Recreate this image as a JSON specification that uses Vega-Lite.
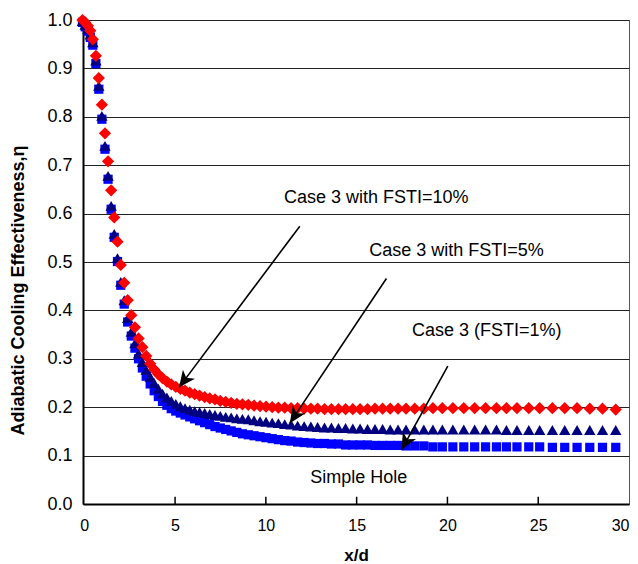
{
  "$schema": "https://vega.github.io/schema/vega-lite/v6.json",
  "width": 546,
  "height": 484,
  "autosize": {"type": "none"},
  "padding": {"left": 83, "top": 20, "right": 9, "bottom": 60},
  "background": "white",
  "config": {
    "font": "Liberation Sans",
    "view": {"stroke": "#555555", "strokeWidth": 1},
    "axis": {"labelFont": "Liberation Sans", "titleFont": "Liberation Sans", "labelColor": "black", "titleColor": "black", "domainColor": "black"}
  },
  "datasets": {
    "curves": [
      {"x": -0.1, "simple": 0.995, "fsti5": 0.998, "fsti10": 1.0},
      {"x": 0.05, "simple": 0.986, "fsti5": 0.99, "fsti10": 0.995},
      {"x": 0.2, "simple": 0.977, "fsti5": 0.982, "fsti10": 0.988},
      {"x": 0.33, "simple": 0.964, "fsti5": 0.97, "fsti10": 0.978},
      {"x": 0.47, "simple": 0.948, "fsti5": 0.954, "fsti10": 0.96},
      {"x": 0.64, "simple": 0.91, "fsti5": 0.916, "fsti10": 0.926},
      {"x": 0.8, "simple": 0.857, "fsti5": 0.864, "fsti10": 0.88},
      {"x": 0.97, "simple": 0.795, "fsti5": 0.802, "fsti10": 0.825},
      {"x": 1.14, "simple": 0.733, "fsti5": 0.74, "fsti10": 0.766},
      {"x": 1.31, "simple": 0.671, "fsti5": 0.678, "fsti10": 0.708},
      {"x": 1.48, "simple": 0.609, "fsti5": 0.616, "fsti10": 0.648},
      {"x": 1.65, "simple": 0.551, "fsti5": 0.558, "fsti10": 0.592},
      {"x": 1.83, "simple": 0.501, "fsti5": 0.508, "fsti10": 0.542},
      {"x": 2.01, "simple": 0.452, "fsti5": 0.459, "fsti10": 0.494},
      {"x": 2.2, "simple": 0.413, "fsti5": 0.421, "fsti10": 0.457},
      {"x": 2.39, "simple": 0.376, "fsti5": 0.384, "fsti10": 0.421},
      {"x": 2.59, "simple": 0.347, "fsti5": 0.356, "fsti10": 0.39},
      {"x": 2.79, "simple": 0.322, "fsti5": 0.332, "fsti10": 0.365},
      {"x": 2.99, "simple": 0.3, "fsti5": 0.311, "fsti10": 0.342},
      {"x": 3.2, "simple": 0.281, "fsti5": 0.293, "fsti10": 0.324},
      {"x": 3.41, "simple": 0.264, "fsti5": 0.277, "fsti10": 0.306},
      {"x": 3.63, "simple": 0.248, "fsti5": 0.263, "fsti10": 0.29},
      {"x": 3.85, "simple": 0.234, "fsti5": 0.25, "fsti10": 0.278},
      {"x": 4.08, "simple": 0.222, "fsti5": 0.238, "fsti10": 0.268},
      {"x": 4.31, "simple": 0.212, "fsti5": 0.228, "fsti10": 0.26},
      {"x": 4.55, "simple": 0.204, "fsti5": 0.22, "fsti10": 0.253},
      {"x": 4.79, "simple": 0.197, "fsti5": 0.213, "fsti10": 0.247},
      {"x": 5.04, "simple": 0.192, "fsti5": 0.207, "fsti10": 0.242},
      {"x": 5.29, "simple": 0.188, "fsti5": 0.202, "fsti10": 0.238},
      {"x": 5.55, "simple": 0.184, "fsti5": 0.198, "fsti10": 0.234},
      {"x": 5.81, "simple": 0.18, "fsti5": 0.195, "fsti10": 0.23},
      {"x": 6.08, "simple": 0.176, "fsti5": 0.192, "fsti10": 0.227},
      {"x": 6.35, "simple": 0.172, "fsti5": 0.19, "fsti10": 0.224},
      {"x": 6.63, "simple": 0.168, "fsti5": 0.188, "fsti10": 0.221},
      {"x": 6.91, "simple": 0.164, "fsti5": 0.186, "fsti10": 0.218},
      {"x": 7.2, "simple": 0.16, "fsti5": 0.184, "fsti10": 0.216},
      {"x": 7.49, "simple": 0.157, "fsti5": 0.182, "fsti10": 0.213},
      {"x": 7.79, "simple": 0.154, "fsti5": 0.18, "fsti10": 0.211},
      {"x": 8.09, "simple": 0.151, "fsti5": 0.179, "fsti10": 0.209},
      {"x": 8.4, "simple": 0.148, "fsti5": 0.177, "fsti10": 0.207},
      {"x": 8.71, "simple": 0.145, "fsti5": 0.176, "fsti10": 0.206},
      {"x": 9.03, "simple": 0.143, "fsti5": 0.175, "fsti10": 0.205},
      {"x": 9.35, "simple": 0.141, "fsti5": 0.173, "fsti10": 0.203},
      {"x": 9.68, "simple": 0.139, "fsti5": 0.171, "fsti10": 0.202},
      {"x": 10.01, "simple": 0.137, "fsti5": 0.17, "fsti10": 0.201},
      {"x": 10.35, "simple": 0.135, "fsti5": 0.168, "fsti10": 0.2},
      {"x": 10.69, "simple": 0.133, "fsti5": 0.167, "fsti10": 0.199},
      {"x": 11.04, "simple": 0.131, "fsti5": 0.165, "fsti10": 0.199},
      {"x": 11.39, "simple": 0.13, "fsti5": 0.164, "fsti10": 0.198},
      {"x": 11.75, "simple": 0.128, "fsti5": 0.162, "fsti10": 0.198},
      {"x": 12.11, "simple": 0.127, "fsti5": 0.161, "fsti10": 0.197},
      {"x": 12.48, "simple": 0.126, "fsti5": 0.16, "fsti10": 0.197},
      {"x": 12.85, "simple": 0.125, "fsti5": 0.159, "fsti10": 0.197},
      {"x": 13.23, "simple": 0.125, "fsti5": 0.158, "fsti10": 0.196},
      {"x": 13.61, "simple": 0.124, "fsti5": 0.158, "fsti10": 0.196},
      {"x": 14.0, "simple": 0.124, "fsti5": 0.157, "fsti10": 0.196},
      {"x": 14.39, "simple": 0.122, "fsti5": 0.157, "fsti10": 0.196},
      {"x": 14.79, "simple": 0.122, "fsti5": 0.156, "fsti10": 0.196},
      {"x": 15.19, "simple": 0.122, "fsti5": 0.156, "fsti10": 0.196},
      {"x": 15.6, "simple": 0.122, "fsti5": 0.155, "fsti10": 0.196},
      {"x": 16.01, "simple": 0.121, "fsti5": 0.155, "fsti10": 0.197},
      {"x": 16.43, "simple": 0.121, "fsti5": 0.155, "fsti10": 0.197},
      {"x": 16.85, "simple": 0.121, "fsti5": 0.154, "fsti10": 0.197},
      {"x": 17.28, "simple": 0.121, "fsti5": 0.154, "fsti10": 0.197},
      {"x": 17.72, "simple": 0.12, "fsti5": 0.154, "fsti10": 0.197},
      {"x": 18.2, "simple": 0.12, "fsti5": 0.154, "fsti10": 0.197},
      {"x": 18.7, "simple": 0.12, "fsti5": 0.154, "fsti10": 0.197},
      {"x": 19.2, "simple": 0.118, "fsti5": 0.154, "fsti10": 0.198},
      {"x": 19.72, "simple": 0.118, "fsti5": 0.154, "fsti10": 0.198},
      {"x": 20.3, "simple": 0.118, "fsti5": 0.154, "fsti10": 0.198},
      {"x": 20.9, "simple": 0.118, "fsti5": 0.154, "fsti10": 0.198},
      {"x": 21.5, "simple": 0.118, "fsti5": 0.154, "fsti10": 0.198},
      {"x": 22.1, "simple": 0.118, "fsti5": 0.154, "fsti10": 0.198},
      {"x": 22.7, "simple": 0.118, "fsti5": 0.154, "fsti10": 0.198},
      {"x": 23.25, "simple": 0.118, "fsti5": 0.153, "fsti10": 0.198},
      {"x": 23.83, "simple": 0.118, "fsti5": 0.153, "fsti10": 0.198},
      {"x": 24.48, "simple": 0.118, "fsti5": 0.153, "fsti10": 0.198},
      {"x": 25.08, "simple": 0.118, "fsti5": 0.153, "fsti10": 0.198},
      {"x": 25.78, "simple": 0.117, "fsti5": 0.153, "fsti10": 0.198},
      {"x": 26.46, "simple": 0.117, "fsti5": 0.153, "fsti10": 0.198},
      {"x": 27.14, "simple": 0.117, "fsti5": 0.153, "fsti10": 0.198},
      {"x": 27.84, "simple": 0.117, "fsti5": 0.153, "fsti10": 0.197},
      {"x": 28.54, "simple": 0.117, "fsti5": 0.153, "fsti10": 0.197},
      {"x": 29.27, "simple": 0.117, "fsti5": 0.153, "fsti10": 0.195}
    ],
    "arrows": [
      {"x": 11.87, "y": 0.574, "x2": 5.22, "y2": 0.241, "angle": 216.8},
      {"x": 16.64, "y": 0.466, "x2": 11.32, "y2": 0.167, "angle": 213.7},
      {"x": 20.02, "y": 0.285, "x2": 17.47, "y2": 0.112, "angle": 208.9}
    ],
    "xticks": [{"t": 5}, {"t": 10}, {"t": 15}, {"t": 20}, {"t": 25}],
    "labels": [
      {"x": 16.08, "y": 0.632, "label": "Case 3 with FSTI=10%"},
      {"x": 20.5, "y": 0.523, "label": "Case 3 with FSTI=5%"},
      {"x": 22.16, "y": 0.357, "label": "Case 3 (FSTI=1%)"},
      {"x": 15.12, "y": 0.054, "label": "Simple Hole"}
    ]
  },
  "layer": [
    {
      "data": {"name": "curves"},
      "mark": {"type": "point", "shape": "square", "filled": true, "opacity": 1, "color": "#0000FF", "size": 85, "strokeWidth": 0},
      "encoding": {
        "x": {"field": "x", "type": "quantitative", "title": "x/d",
          "scale": {"domain": [-0.07, 30], "nice": false, "zero": false},
          "axis": {"values": [0, 5, 10, 15, 20, 25, 30], "grid": false, "domainWidth": 2, "ticks": false, "labelPadding": 13, "labelFontSize": 16, "titleFontSize": 17, "titleFontWeight": "bold", "titleY": 51, "titleBaseline": "middle"}},
        "y": {"field": "simple", "type": "quantitative", "title": "Adiabatic Cooling Effectiveness,η",
          "scale": {"domain": [0, 1], "nice": false, "zero": false},
          "axis": {"values": [0, 0.1, 0.2, 0.3, 0.4, 0.5, 0.6, 0.7, 0.8, 0.9, 1.0], "format": ".1f", "grid": true, "gridColor": "#222222", "gridWidth": 1, "gridOpacity": 1, "ticks": false, "domainWidth": 2, "labelPadding": 11, "labelFontSize": 18, "titleFontSize": 18, "titleFontWeight": "bold", "titleX": -65, "titleY": 270, "titleBaseline": "middle"}}
      }
    },
    {
      "data": {"name": "curves"},
      "mark": {"type": "point", "shape": "triangle-up", "filled": true, "opacity": 1, "color": "#000080", "size": 130, "strokeWidth": 0},
      "encoding": {
        "x": {"field": "x", "type": "quantitative", "title": "x/d"},
        "y": {"field": "fsti5", "type": "quantitative", "title": "Adiabatic Cooling Effectiveness,η"}
      }
    },
    {
      "data": {"name": "curves"},
      "mark": {"type": "point", "shape": "diamond", "filled": true, "opacity": 1, "color": "#FF0000", "size": 150, "strokeWidth": 0},
      "encoding": {
        "x": {"field": "x", "type": "quantitative", "title": "x/d"},
        "y": {"field": "fsti10", "type": "quantitative", "title": "Adiabatic Cooling Effectiveness,η"}
      }
    },
    {
      "data": {"name": "xticks"},
      "mark": {"type": "rule", "color": "black", "strokeWidth": 1.5},
      "encoding": {
        "x": {"field": "t", "type": "quantitative", "title": "x/d"},
        "y": {"datum": 0, "type": "quantitative"},
        "y2": {"datum": 0.015}
      }
    },
    {
      "data": {"name": "arrows"},
      "mark": {"type": "rule", "color": "black", "strokeWidth": 1.6},
      "encoding": {
        "x": {"field": "x", "type": "quantitative", "title": "x/d"},
        "y": {"field": "y", "type": "quantitative", "title": "Adiabatic Cooling Effectiveness,η"},
        "x2": {"field": "x2"},
        "y2": {"field": "y2"}
      }
    },
    {
      "data": {"name": "arrows"},
      "mark": {"type": "point", "shape": "M0,0L-1,2.2L0,1.6L1,2.2Z", "filled": true, "opacity": 1, "color": "black", "size": 225, "strokeWidth": 0},
      "encoding": {
        "x": {"field": "x2", "type": "quantitative", "title": "x/d"},
        "y": {"field": "y2", "type": "quantitative", "title": "Adiabatic Cooling Effectiveness,η"},
        "angle": {"field": "angle", "type": "quantitative", "scale": null}
      }
    },
    {
      "data": {"name": "labels"},
      "mark": {"type": "text", "font": "Liberation Sans", "fontSize": 18, "color": "black", "align": "center", "baseline": "middle"},
      "encoding": {
        "x": {"field": "x", "type": "quantitative", "title": "x/d"},
        "y": {"field": "y", "type": "quantitative", "title": "Adiabatic Cooling Effectiveness,η"},
        "text": {"field": "label"}
      }
    }
  ]
}
